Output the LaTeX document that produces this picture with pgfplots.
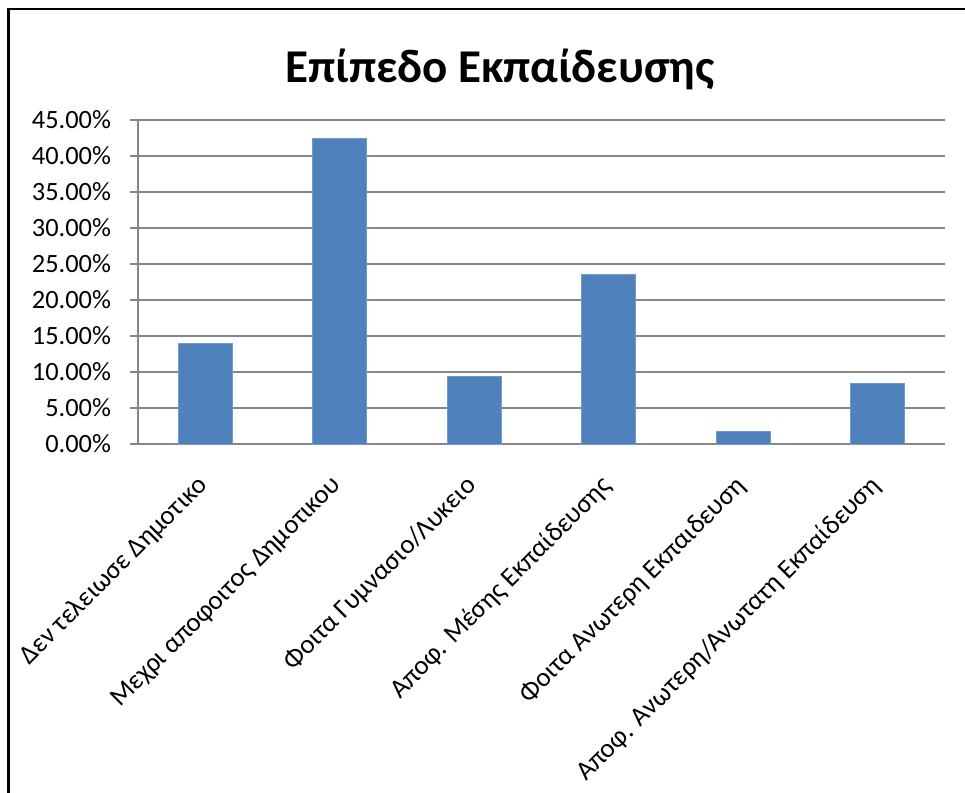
\documentclass[border=0pt]{standalone}
\usepackage{fontspec}
\setmainfont{Carlito}
\usepackage{pgfplots}
\pgfplotsset{compat=1.18}
\definecolor{barblue}{HTML}{4F81BD}
\definecolor{gridgray}{HTML}{868686}
\begin{document}
\begin{tikzpicture}
\useasboundingbox (0,0) rectangle (482.5pt,396.5pt);
\draw[line width=1.1pt] (4.25pt,-2pt) -- (4.25pt,392.15pt) -- (485pt,392.15pt);
\node[anchor=base, font=\fontsize{23.5}{28}\selectfont\bfseries] at (250pt,355pt) {Επίπεδο Εκπαίδευσης};
\begin{axis}[
  at={(69pt,174.5pt)}, anchor=south west,
  scale only axis, width=403.5pt, height=162pt,
  xmin=0.5, xmax=6.5, ymin=0, ymax=45,
  axis x line=bottom, axis y line=left,
  axis line style={-, gridgray, line width=0.8pt},
  ytick={0,5,...,45},
  ymajorgrids, grid style={gridgray, line width=0.8pt},
  tick align=outside,
  major tick style={gridgray, line width=0.8pt},
  major tick length=4pt,
  /pgf/number format/assume math mode=true,
  yticklabel={\pgfmathprintnumber[fixed,fixed zerofill,precision=2]{\tick}\%},
  yticklabel style={font=\fontsize{13.2}{15}\selectfont, xshift=-6pt},
  xtick={1,2,3,4,5,6},
  x tick style={draw=none},
  minor xtick={0.5,1.5,...,6.5},
  minor tick length=4pt,
  minor x tick style={gridgray, line width=0.8pt},
  xticklabels={Δεν τελειωσε Δημοτικο, Μεχρι αποφοιτος Δημοτικου, Φοιτα Γυμνασιο/Λυκειο, Αποφ. Μέσης Εκπαίδευσης, Φοιτα Ανωτερη Εκπαιδευση, Αποφ. Ανωτερη/Ανωτατη Εκπαίδευση},
  xticklabel style={font=\fontsize{13.4}{15}\selectfont, rotate=45, anchor=north east, xshift=-10pt, yshift=-3pt, inner sep=1pt},
  clip=false,
]
\addplot[ybar, bar width=0.4, fill=barblue, draw=barblue!80!white] coordinates {
(1,14.0) (2,42.4) (3,9.35) (4,23.5) (5,1.8) (6,8.45)
};
\end{axis}
\end{tikzpicture}
\end{document}
